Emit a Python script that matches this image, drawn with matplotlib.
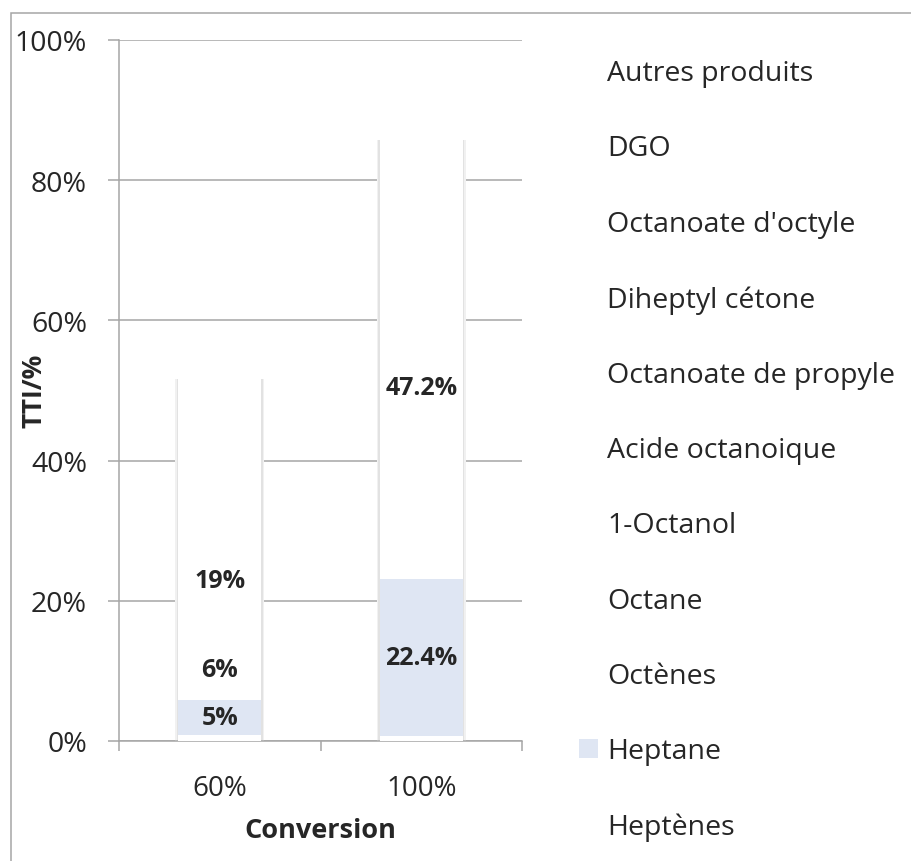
import matplotlib
matplotlib.use("Agg")
import matplotlib.pyplot as plt
from matplotlib.patches import Rectangle
import numpy as np

plt.rcParams['font.family'] = ['Open Sans', 'DejaVu Sans']

categories = ['60%', '100%']
series = ['Heptènes', 'Heptane', 'Octènes', 'Octane', '1-Octanol',
          'Acide octanoique', 'Octanoate de propyle', 'Diheptyl cétone',
          "Octanoate d'octyle", 'DGO', 'Autres produits']
heptenes = [0.8, 0.7]
heptane = [5.0, 22.4]
octenes = [1.4, 1.2]
octane = [6.0, 2.5]
octanol = [19.5, 47.2]
acide = [0.0, 0.0]
oct_propyle = [3.0, 1.7]
diheptyl = [7.7, 2.9]
oct_octyle = [2.3, 3.0]
dgo = [0.0, 0.0]
autres = [6.0, 4.1]
values = [heptenes, heptane, octenes, octane, octanol, acide, oct_propyle,
          diheptyl, oct_octyle, dgo, autres]
shown_labels = {'Heptane': ['5%', '22.4%'], 'Octane': ['6%', ''],
                '1-Octanol': ['19%', '47.2%']}
yticks = [0, 20, 40, 60, 80, 100]
ytick_labels = ['0%', '20%', '40%', '60%', '80%', '100%']

colors = ['#ffffff'] * len(series)
colors[1] = '#dfe6f3'

W, H = 912, 862
GRAY = '#a6a6a6'
TXT = '#262626'
fig = plt.figure(figsize=(W / 100, H / 100), dpi=100)
fig.patches.append(Rectangle((11 / W, -0.05), 2, (H - 14) / H + 0.05,
                             transform=fig.transFigure, fill=False,
                             edgecolor=GRAY, linewidth=1.1))
ax = fig.add_axes([119 / W, 1 - 742 / H, (522 - 119) / W, (742 - 41) / H])

x = np.arange(len(categories))
width = 0.41
totals = np.sum(np.array(values), axis=0)
# soft shadow
ax.bar(x, totals, width + 0.032, color='#f1f1f1', zorder=2, linewidth=0)
ax.bar(x, totals, width + 0.016, color='#e2e2e2', zorder=2, linewidth=0)

bottom = np.zeros(len(categories))
handles = []
for name, vals, c in zip(series, values, colors):
    bars = ax.bar(x, vals, width, bottom=bottom, color=c, label=name,
                  zorder=3, linewidth=0)
    handles.append(bars)
    if name in shown_labels:
        ax.bar_label(bars, labels=shown_labels[name], label_type='center',
                     fontsize=18, fontweight='bold', color=TXT, zorder=4)
    bottom += np.array(vals)

ax.set_xlim(-0.5, 1.5)
ax.set_ylim(0, 100)
ax.set_yticks(yticks)
ax.set_yticklabels(ytick_labels)
ax.set_xticks(x)
ax.set_xticklabels(categories)
ax.set_xticks([-0.5, 0.5, 1.5], minor=True)
ax.tick_params(axis='x', which='major', length=0, pad=24, labelsize=20, labelcolor=TXT)
ax.tick_params(axis='x', which='minor', length=7.5, width=1.1, color=GRAY)
ax.tick_params(axis='y', length=8, width=1.1, color=GRAY, pad=15,
               labelsize=20.5, labelcolor=TXT)
ax.grid(axis='y', color=GRAY, linewidth=1.1, zorder=1)
ax.set_axisbelow(True)
for s in ['top', 'right']:
    ax.spines[s].set_visible(False)
for s in ['left', 'bottom']:
    ax.spines[s].set_color(GRAY)
    ax.spines[s].set_linewidth(1.1)

ax.set_xlabel('Conversion', fontsize=19.5, fontweight='bold', color=TXT)
ax.xaxis.set_label_coords(0.5, -(831 - 742) / 701, transform=ax.transAxes)
ax.xaxis.label.set_va('center')
ax.set_ylabel('TTI/%', fontsize=19, fontweight='bold', color=TXT)
ax.yaxis.set_label_coords((34 - 119) / 403, 0.501)
ax.yaxis.label.set_va('center')

leg = fig.legend(handles[::-1], series[::-1], loc='upper left',
                 bbox_to_anchor=(565 / W, 1 - 46 / H), frameon=False,
                 fontsize=20.5, handlelength=0.66, handleheight=0.66,
                 handletextpad=0.32, labelspacing=1.66, borderpad=0)
for t in leg.get_texts():
    t.set_color(TXT)

fig.savefig('out.png', dpi=100)
